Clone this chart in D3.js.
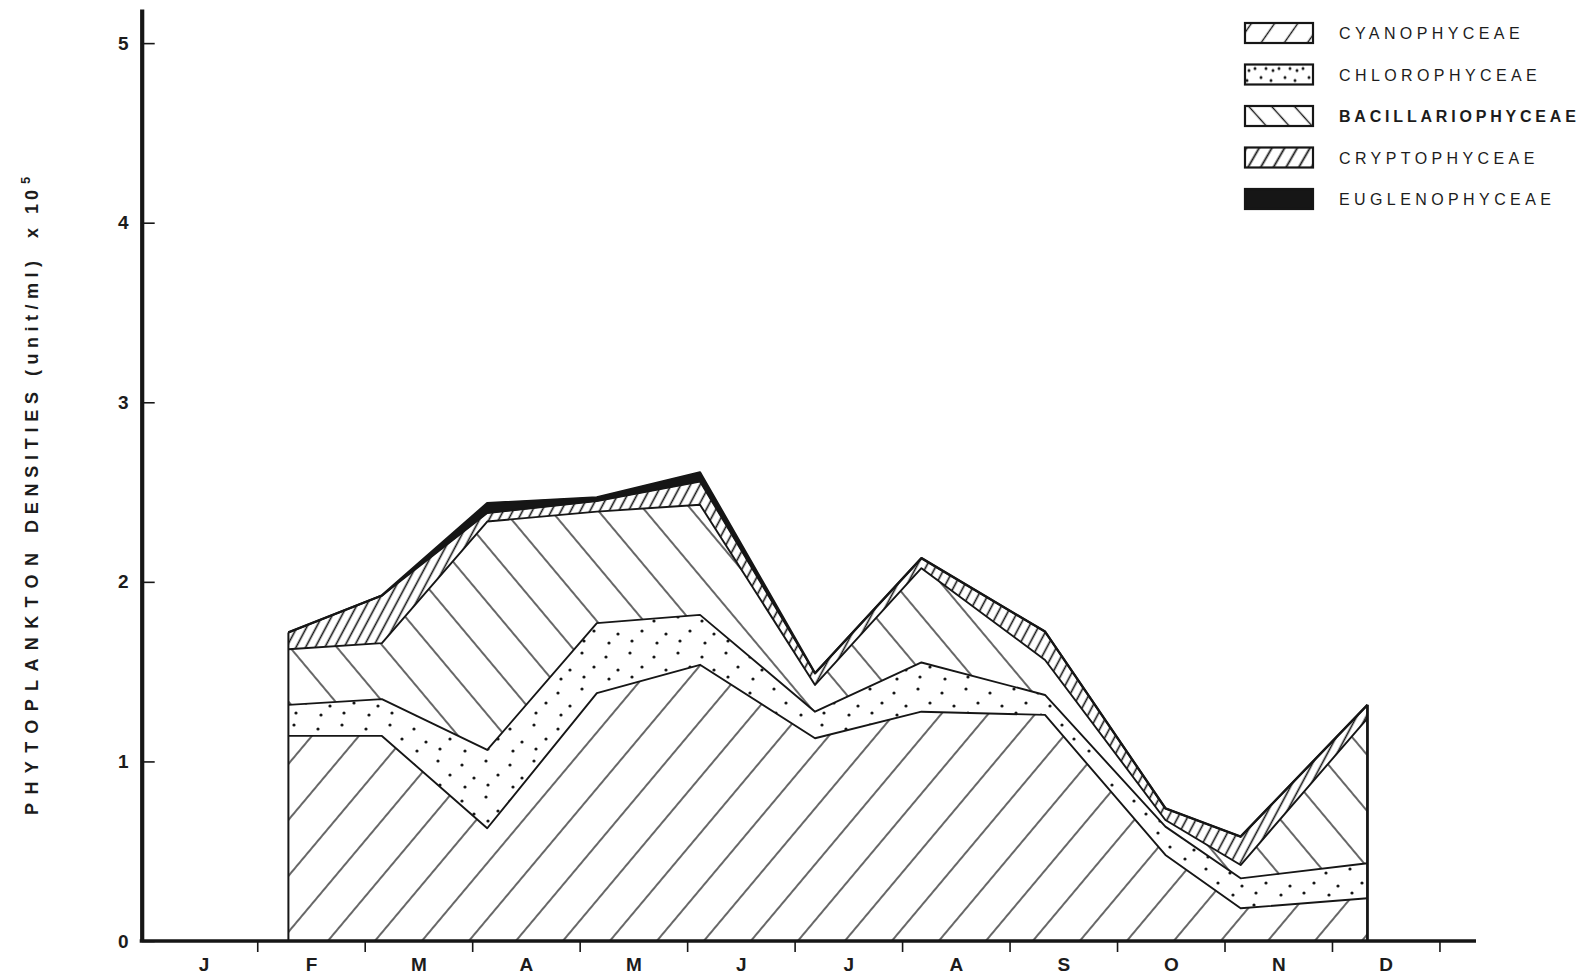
<!DOCTYPE html>
<html>
<head>
<meta charset="utf-8">
<script src="https://cdn.jsdelivr.net/npm/d3@7"></script>
<style>
  html, body { margin: 0; padding: 0; background: #ffffff; }
  svg { display: block; }
  text { font-family: "Liberation Sans", Arial, Helvetica, sans-serif; fill: #1c1c1c; }
</style>
</head>
<body>
<svg id="chart" width="1583" height="975"></svg>
<script>
// Month initials along the x axis (one per calendar month)
const monthLabels = ["J", "F", "M", "A", "M", "J", "J", "A", "S", "O", "N", "D"];
// Sampling dates expressed in months from 1 January
const sampleMonth = [1.29, 2.16, 3.14, 4.16, 5.12, 6.19, 7.18, 8.33, 9.45, 10.15, 11.33];

// Densities per algal class, unit/ml x 10^5
const cyanophyceae      = [1.142, 1.142, 0.628, 1.380, 1.538, 1.129, 1.277, 1.259, 0.479, 0.182, 0.238];
const chlorophyceae     = [0.173, 0.205, 0.436, 0.390, 0.278, 0.148, 0.274, 0.111, 0.158, 0.167, 0.195];
const bacillariophyceae = [0.310, 0.312, 1.272, 0.621, 0.613, 0.149, 0.525, 0.195, 0.037, 0.074, 0.807];
const cryptophyceae     = [0.093, 0.265, 0.047, 0.059, 0.130, 0.065, 0.056, 0.158, 0.065, 0.158, 0.075];
const euglenophyceae    = [0.000, 0.000, 0.055, 0.020, 0.050, 0.000, 0.000, 0.000, 0.000, 0.000, 0.000];

const classNames = ["CYANOPHYCEAE", "CHLOROPHYCEAE", "BACILLARIOPHYCEAE", "CRYPTOPHYCEAE", "EUGLENOPHYCEAE"];
const yTickValues = [0, 1, 2, 3, 4, 5];
const yTitleWords = ["PHYTOPLANKTON", "DENSITIES", "(unit/ml)", "x", "10"];
const yTitleExponent = "5";

// ---- table for the stack ----
const seriesByClass = {
  CYANOPHYCEAE: cyanophyceae,
  CHLOROPHYCEAE: chlorophyceae,
  BACILLARIOPHYCEAE: bacillariophyceae,
  CRYPTOPHYCEAE: cryptophyceae,
  EUGLENOPHYCEAE: euglenophyceae
};
const rows = sampleMonth.map((m, i) => {
  const r = { month: m };
  classNames.forEach(k => { r[k] = seriesByClass[k][i]; });
  return r;
});
const stacked = d3.stack().keys(classNames)(rows);

// ---- scales ----
const x = d3.scaleLinear().domain([-0.075, 12.34]).range([141.7, 1476]);
const y = d3.scaleLinear().domain([0, 5.19]).range([941, 9]);

const svg = d3.select("#chart");
const ink = "#161616";
const defs = svg.append("defs");

// Line hatch: vertical strokes rotated into place
function hatch(id, angle, spacing, width, ox = 0, oy = 0) {
  const p = defs.append("pattern")
    .attr("id", id)
    .attr("patternUnits", "userSpaceOnUse")
    .attr("width", spacing).attr("height", 20)
    .attr("x", ox).attr("y", oy)
    .attr("patternTransform", `rotate(${angle})`);
  p.append("rect").attr("width", spacing).attr("height", 20).attr("fill", "#fff");
  p.append("line")
    .attr("x1", spacing / 2).attr("x2", spacing / 2)
    .attr("y1", -1).attr("y2", 21)
    .attr("stroke", ink).attr("stroke-width", width);
}
// Sparse stipple
function stipple(id, w, h, dots, r) {
  const p = defs.append("pattern")
    .attr("id", id)
    .attr("patternUnits", "userSpaceOnUse")
    .attr("width", w).attr("height", h);
  p.append("rect").attr("width", w).attr("height", h).attr("fill", "#fff");
  dots.forEach(([cx, cy]) => p.append("circle").attr("cx", cx).attr("cy", cy).attr("r", r).attr("fill", ink));
}

// chart fills
hatch("p-cyano", 40, 36, 1.3, 10, 0);
stipple("p-chloro", 48, 36, [[6, 5], [30, 9], [18, 19], [42, 22], [8, 29], [33, 31]], 1.6);
hatch("p-bacil", -40, 36, 1.3, 4, 0);
hatch("p-crypto", 28, 8.5, 1.6, 0, 0);
// legend fills
hatch("l-cyano", 35, 19, 1.4, 1250, 0);
stipple("l-chloro", 24, 20, [[4, 6], [16, 13], [10, 4], [21, 4], [2, 16]], 1.5);
hatch("l-bacil", -42, 17, 1.4, 1252, 0);
hatch("l-crypto", 30, 11, 1.8, 1250, 0);

const fills = {
  CYANOPHYCEAE: "url(#p-cyano)",
  CHLOROPHYCEAE: "url(#p-chloro)",
  BACILLARIOPHYCEAE: "url(#p-bacil)",
  CRYPTOPHYCEAE: "url(#p-crypto)",
  EUGLENOPHYCEAE: ink
};
const legendFills = {
  CYANOPHYCEAE: "url(#l-cyano)",
  CHLOROPHYCEAE: "url(#l-chloro)",
  BACILLARIOPHYCEAE: "url(#l-bacil)",
  CRYPTOPHYCEAE: "url(#l-crypto)",
  EUGLENOPHYCEAE: ink
};

// ---- stacked areas ----
const area = d3.area()
  .x(d => x(d.data.month))
  .y0(d => y(d[0]))
  .y1(d => y(d[1]));

svg.append("g").selectAll("path.layer")
  .data(stacked)
  .join("path")
  .attr("class", "layer")
  .attr("d", area)
  .attr("fill", s => fills[s.key])
  .attr("stroke", s => s.key === "EUGLENOPHYCEAE" ? ink : "none")
  .attr("stroke-width", 1);

// boundary line on top of each layer
const topLine = d3.line()
  .x(d => x(d.data.month))
  .y(d => y(d[1]));
svg.append("g").selectAll("path.edge")
  .data(stacked)
  .join("path")
  .attr("class", "edge")
  .attr("d", topLine)
  .attr("fill", "none")
  .attr("stroke", ink)
  .attr("stroke-width", (s, i) => i === stacked.length - 1 ? 2.4 : 1.9)
  .attr("stroke-linejoin", "round");

// vertical closing lines at first and last sampling date
const total = stacked[stacked.length - 1];
const ends = [total[0], total[total.length - 1]];
svg.append("g").selectAll("line.end")
  .data(ends)
  .join("line")
  .attr("x1", d => x(d.data.month)).attr("x2", d => x(d.data.month))
  .attr("y1", y(0)).attr("y2", d => y(d[1]))
  .attr("stroke", ink).attr("stroke-width", (d, i) => i === 0 ? 2 : 2.8);

// ---- axes ----
const yAxis = d3.axisLeft(y)
  .tickValues(yTickValues)
  .tickFormat(d3.format("d"))
  .tickSizeInner(-13)
  .tickSizeOuter(0)
  .tickPadding(13);
const gy = svg.append("g").attr("transform", `translate(${x(-0.075)},0)`).call(yAxis);
gy.select(".domain").attr("stroke", ink).attr("stroke-width", 4.2);
gy.selectAll(".tick line").attr("stroke", ink).attr("stroke-width", 1.6);
gy.selectAll(".tick text")
  .attr("font-size", 19).attr("font-weight", "bold")
  .attr("font-family", "'Liberation Sans', Arial, sans-serif")
  .attr("fill", "#1c1c1c");

const boundaries = d3.range(1, 13);
const xTicks = d3.axisBottom(x)
  .tickValues(boundaries)
  .tickFormat("")
  .tickSizeInner(11)
  .tickSizeOuter(0);
const gx = svg.append("g").attr("transform", `translate(0,${y(0)})`).call(xTicks);
gx.select(".domain").attr("stroke", ink).attr("stroke-width", 3.6).attr("d", `M${x(-0.075) - 2},0H${x(12.34)}`);
gx.selectAll(".tick line").attr("stroke", ink).attr("stroke-width", 1.6);

const xLabels = d3.axisBottom(x)
  .tickValues(monthLabels.map((_, i) => i + 0.5))
  .tickFormat((d, i) => monthLabels[i])
  .tickSize(0)
  .tickPadding(17);
const gxl = svg.append("g").attr("transform", `translate(0,${y(0)})`).call(xLabels);
gxl.select(".domain").remove();
gxl.selectAll(".tick text")
  .attr("font-size", 19).attr("font-weight", "bold")
  .attr("font-family", "'Liberation Sans', Arial, sans-serif")
  .attr("fill", "#1c1c1c");

// ---- y title (rotated, word by word) ----
// [bottom, top] screen extents of each word
const titleSpans = [[815, 553], [533, 392], [376, 261], [238, 229], [214, 190]];
const gTitle = svg.append("g").attr("transform", "translate(38,0) rotate(-90)");
gTitle.selectAll("text.word")
  .data(yTitleWords)
  .join("text")
  .attr("class", "word")
  .attr("x", (d, i) => -titleSpans[i][0])
  .attr("font-size", 18).attr("font-weight", "bold")
  .attr("textLength", (d, i) => d.length > 1 ? titleSpans[i][0] - titleSpans[i][1] : null)
  .attr("lengthAdjust", "spacing")
  .text(d => d);
gTitle.append("text")
  .attr("x", -184).attr("y", -8)
  .attr("font-size", 13).attr("font-weight", "bold")
  .text(yTitleExponent);

// ---- legend ----
const legend = svg.append("g");
const legendItems = legend.selectAll("g.item")
  .data(classNames)
  .join("g")
  .attr("class", "item")
  .attr("transform", (d, i) => `translate(1245,${23 + i * 41.5})`);
legendItems.append("rect")
  .attr("width", 68).attr("height", 20)
  .attr("fill", d => legendFills[d])
  .attr("stroke", ink).attr("stroke-width", 2.2);
legendItems.append("text")
  .attr("x", 94).attr("y", 16)
  .attr("font-size", 16)
  .attr("letter-spacing", (d, i) => i === 2 ? 3.8 : 4.4)
  .attr("font-weight", (d, i) => i === 2 ? "bold" : "normal")
  .text(d => d);
</script>
</body>
</html>
